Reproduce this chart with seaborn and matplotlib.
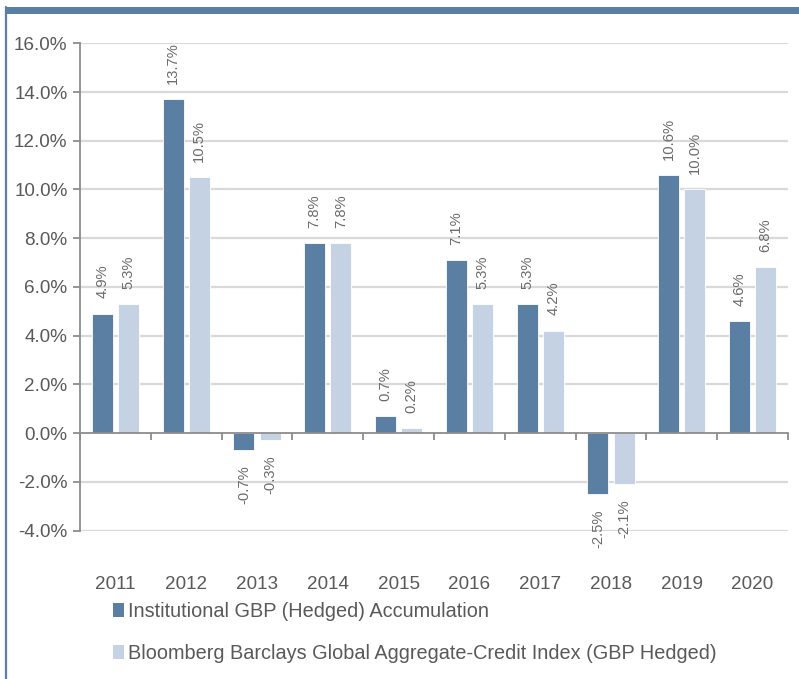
import matplotlib
matplotlib.use("Agg")
import matplotlib.pyplot as plt
from matplotlib.lines import Line2D
from matplotlib.patches import Rectangle
from matplotlib.ticker import FuncFormatter, FixedLocator
import numpy as np
import pandas as pd
import seaborn as sns

years = ["2011", "2012", "2013", "2014", "2015", "2016", "2017", "2018", "2019", "2020"]
fund_name = "Institutional GBP (Hedged) Accumulation"
index_name = "Bloomberg Barclays Global Aggregate-Credit Index (GBP Hedged)"
fund_returns = [4.9, 13.7, -0.7, 7.8, 0.7, 7.1, 5.3, -2.5, 10.6, 4.6]
index_returns = [5.3, 10.5, -0.3, 7.8, 0.2, 5.3, 4.2, -2.1, 10.0, 6.8]
y_ticks = [-4, -2, 0, 2, 4, 6, 8, 10, 12, 14, 16]

DARK = "#5b7fa3"
LIGHT = "#c5d2e3"
TEXT = "#595959"
GRID = "#d9d9d9"
AXIS = "#8c8c8c"

df = pd.DataFrame({
    "year": years * 2,
    "series": [fund_name] * len(years) + [index_name] * len(years),
    "value": fund_returns + index_returns,
})

sns.set_theme(style="white")
plt.rcParams["font.family"] = ["Liberation Sans", "DejaVu Sans"]

W, H = 799, 679
fig = plt.figure(figsize=(W / 100, H / 100), dpi=100)
ax = fig.add_axes([80 / W, 1 - 530.5 / H, (788 - 80) / W, (530.5 - 43.3) / H])

sns.barplot(data=df, x="year", y="value", hue="series", palette=[DARK, LIGHT],
            width=0.74, gap=0.2, ax=ax, legend=False, saturation=1,
            edgecolor="white", linewidth=0.6)

ax.set_xlim(-0.5, len(years) - 0.5)
ax.set_ylim(-4, 16)
ax.set_xlabel("")
ax.set_ylabel("")

# horizontal gridlines
ax.yaxis.set_major_locator(FixedLocator(y_ticks))
ax.yaxis.set_major_formatter(FuncFormatter(lambda v, p: f"{v:.1f}%"))
for t in y_ticks:
    if t != 0:
        ax.axhline(t, color=GRID, lw=1.6, zorder=0)

# spines: y axis on the left, category axis at zero
for s in ["top", "right"]:
    ax.spines[s].set_visible(False)
ax.spines["left"].set_color(AXIS)
ax.spines["left"].set_linewidth(1.3)
ax.spines["bottom"].set_position(("data", 0))
ax.spines["bottom"].set_color(AXIS)
ax.spines["bottom"].set_linewidth(1.3)

ax.tick_params(axis="y", direction="out", length=5, width=1.3, color=AXIS,
               labelsize=13.6, labelcolor=TEXT, pad=4, left=True)
ax.set_xticks(np.arange(-0.5, len(years)), minor=True)
ax.tick_params(axis="x", which="minor", direction="out", length=5, width=1.3,
               color=AXIS, bottom=True)
ax.tick_params(axis="x", which="major", length=0, labelsize=13.6,
               labelcolor=TEXT, pad=103)

# value labels
for cont in ax.containers:
    ax.bar_label(cont, fmt=lambda v: f"{v:.1f}%", padding=11, rotation=90,
                 fontsize=10.6, color="#6b6b6b")

# legend
handles = [Rectangle((0, 0), 1, 1, facecolor=DARK, edgecolor="none"),
           Rectangle((0, 0), 1, 1, facecolor=LIGHT, edgecolor="none")]
fig.legend(handles, [fund_name, index_name], loc="upper left",
           bbox_to_anchor=(113 / W, 1 - 602 / H), frameon=False,
           fontsize=14.3, labelcolor=TEXT, handlelength=0.55, handleheight=0.7,
           handletextpad=0.2, labelspacing=1.15, borderpad=0, borderaxespad=0)

# frame accents
fig.add_artist(Rectangle((5 / W, 1 - 14 / H), 1, 7 / H, transform=fig.transFigure,
                         facecolor=DARK, edgecolor="none"))
fig.add_artist(Line2D([6 / W, 6 / W], [0, 1 - 7 / H], transform=fig.transFigure,
                      color=DARK, lw=1.6))

fig.savefig("out.png", dpi=100)
